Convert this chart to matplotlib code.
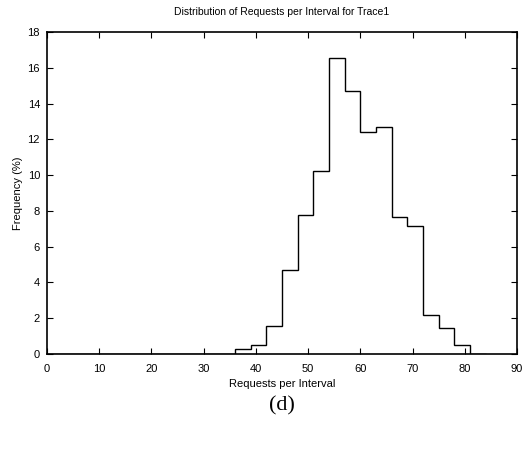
import matplotlib
matplotlib.use("Agg")
import matplotlib.pyplot as plt

plt.rcParams['font.family'] = ['Liberation Sans', 'DejaVu Sans']

bin_edges = [0, 3, 6, 9, 12, 15, 18, 21, 24, 27, 30, 33, 36, 39, 42, 45, 48,
             51, 54, 57, 60, 63, 66, 69, 72, 75, 78, 81, 84]
frequency = [0, 0, 0, 0, 0, 0, 0, 0, 0, 0, 0, 0,
             0.3, 0.5, 1.58, 4.67, 7.75, 10.22, 16.55, 14.7, 12.41, 12.7,
             7.63, 7.15, 2.2, 1.45, 0.5, 0.0]
x_ticks = [0, 10, 20, 30, 40, 50, 60, 70, 80, 90]
y_ticks = [0, 2, 4, 6, 8, 10, 12, 14, 16, 18]

fig = plt.figure(figsize=(5.32, 4.5), dpi=100)
ax = fig.add_axes([0.0883, 0.2133, 0.8837, 0.7157])
ax.stairs(frequency, bin_edges, color='black', linewidth=1.0, baseline=None)
ax.set_xlim(0, 90)
ax.set_ylim(0, 18)
ax.set_xticks(x_ticks)
ax.set_yticks(y_ticks)
ax.tick_params(direction='in', top=True, right=True, length=4, width=0.8,
               labelsize=8)
ax.tick_params(axis='x', pad=7)
ax.tick_params(axis='y', pad=5)
for s in ax.spines.values():
    s.set_linewidth(1.2)
ax.set_title('Distribution of Requests per Interval for Trace1', fontsize=7.5, pad=12)
ax.set_xlabel('Requests per Interval', fontsize=8, labelpad=4)
ax.set_ylabel('Frequency (%)', fontsize=8, labelpad=3)
fig.text(0.5 * (0.0883 + 0.972), 1 - 406 / 450, '(d)', ha='center', va='center',
         fontsize=16, family='Liberation Serif')
fig.savefig('out.png', dpi=100)
